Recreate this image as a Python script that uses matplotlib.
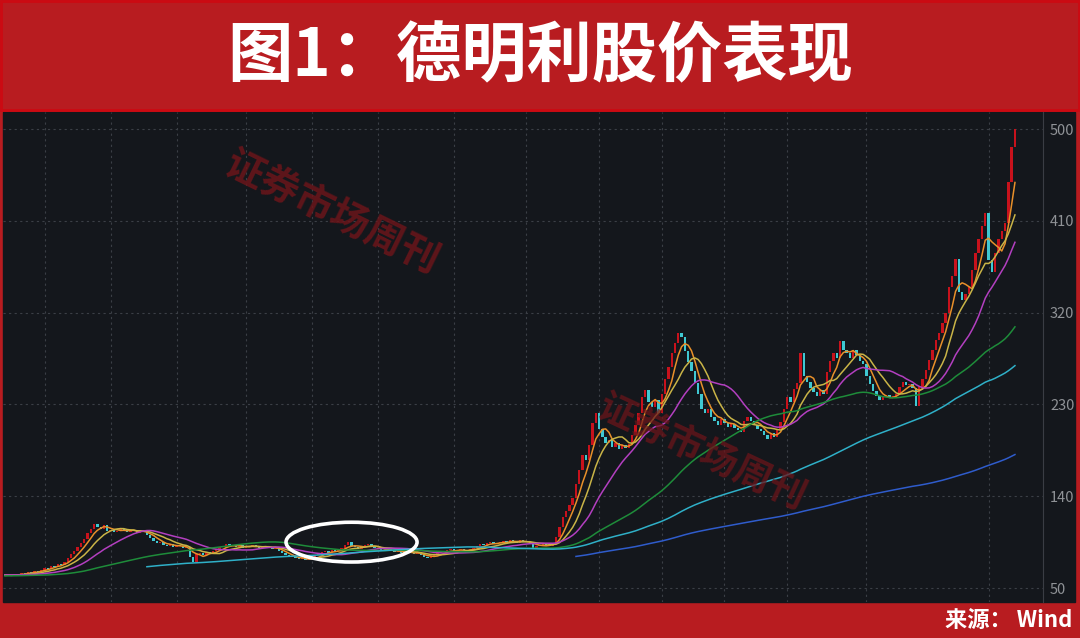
import matplotlib
matplotlib.use('Agg')
import matplotlib.pyplot as plt
from matplotlib.patches import Rectangle, Ellipse
import numpy as np
import pandas as pd

plt.rcParams['font.family'] = ['Noto Sans CJK SC', 'DejaVu Sans']

# cours de clôture avant la fenêtre visible (servent seulement aux moyennes longues)
history = [58, 59, 57, 58, 60, 59, 61, 60, 59, 58,
           60, 61, 62, 60, 59, 61, 63, 62, 61, 60,
           59, 60, 62, 61, 63, 62, 60, 61, 62, 63,
           61, 60, 59, 60, 61, 62, 60, 59, 61, 62,
           63, 61, 60, 62, 61, 63, 62, 64, 63, 62,
           61, 62, 63, 64, 62, 63, 61, 62, 63, 62,
           64, 63, 62, 63, 64, 62, 63, 64, 63, 62,
           63, 64, 62, 63, 62, 63]

# cours de clôture visibles
closes = [62, 63, 62, 64, 63, 65, 64, 66, 65, 67, 66,
          68, 70, 69, 72, 71, 74, 73,
          76, 79, 83, 86, 90, 94,
          98, 104, 108, 113, 110,
          108, 112, 106,
          107, 105, 106, 108, 107, 105, 106, 107, 104, 106, 105,
          102, 99, 96, 94, 95,
          92, 91, 93, 90, 92, 91, 89, 90,
          80, 76,
          83, 84, 82, 85, 84, 86,
          88, 90, 91, 93, 92, 91,
          90, 92, 89, 91, 90, 92, 91, 89, 90, 91, 90, 88, 89,
          86, 84, 82, 80, 81, 79, 78, 80, 77, 78, 79,
          82, 84, 85, 86, 84, 87, 86, 88, 89, 92, 95, 91, 90, 88,
          90, 92, 93, 91, 89, 88, 87, 86, 88, 87, 85, 86, 84, 85, 86, 84, 83, 85,
          82, 80, 79, 81, 83, 84, 85,
          86, 87, 88, 86, 87, 88, 87, 86, 88, 89,
          91, 93, 92, 94, 95, 93, 94, 95,
          96, 95, 97, 96, 94, 97, 96, 95,
          93, 89, 91, 92,
          93, 92, 91, 94,
          100, 110, 120, 126, 131, 138, 152, 166, 180,
          176, 190, 212, 222, 206, 198, 192, 195, 188, 192, 186, 190, 187, 191, 200, 210,
          222, 237, 244, 232, 227, 234, 222, 240, 255, 267, 280, 290, 300, 296, 282, 272,
          263, 251, 240, 226, 222, 226, 218,
          214, 210, 216, 212, 208, 211, 207,
          205, 203, 214,
          218, 214, 210, 206, 204,
          200, 196, 202, 198,
          206, 213, 226, 237, 232,
          245, 251, 280, 258,
          252, 246, 242, 238, 244, 240,
          262, 273, 280, 276, 292, 283,
          280, 276, 283, 278, 273, 270,
          258, 250, 243,
          238, 234, 237, 239, 236, 238, 240,
          247, 252, 249, 250, 246, 228, 247,
          255, 264, 274, 283, 293, 300, 310, 320,
          345, 356, 373, 340, 332,
          338, 345, 362, 378,
          392, 405, 418, 372, 360, 378, 392, 400, 408, 448, 482, 500]

ma_periods = [5, 10, 20, 60, 120, 250]
ma_colors = ['#e8902a', '#c9b447', '#b33fc0', '#1e8c3a', '#2fb0c8', '#2f5ccc']
y_ticks = [50, 140, 230, 320, 410, 500]
month_lines = [12, 32, 52, 73, 93, 113, 136, 158, 180, 199, 218, 237, 261, 298]

W, H = 1080, 638
fig = plt.figure(figsize=(W / 100, H / 100), dpi=100)
fig.patch.set_facecolor('#b81c20')

# panneau sombre du graphique
fig.add_artist(Rectangle((3 / W, 1 - 602 / H), 1072 / W, 490 / H,
                         transform=fig.transFigure, color='#14171c', zorder=0))
# bordure du bandeau de titre
fig.add_artist(Rectangle((1 / W, 1 - 110 / H), 1078 / W, 109 / H, transform=fig.transFigure,
                         fill=False, ec='#cc0a12', lw=2, zorder=1))

ax = fig.add_axes([3 / W, 1 - 602 / H, 1040 / W, 490 / H])
ax.set_facecolor('#14171c')

c = np.array(closes, dtype=float)
o = np.r_[history[-1], c[:-1]]
x = np.arange(len(c))
up = c >= o
dn = ~up
ax.bar(x[up], c[up] - o[up], bottom=o[up], width=0.72, color='#c8121c', zorder=2)
ax.bar(x[dn], c[dn] - o[dn], bottom=o[dn], width=0.72, color='#3fc8d2', zorder=2)

# moyennes mobiles
s = pd.Series(history + closes, dtype=float)
for p, col in zip(ma_periods, ma_colors):
    ma = s.rolling(p).mean().to_numpy()[len(history):]
    ax.plot(x, ma, color=col, lw=1.1, zorder=3)

# ellipse blanche de mise en évidence
ax.add_patch(Ellipse((105, 95), 39.7, 39, fill=False, ec='white', lw=2.6, zorder=5))

ax.set_xlim(-0.6, 314.5)
ax.set_ylim(36.3, 516.7)
ax.set_yticks(y_ticks)
ax.yaxis.tick_right()
ax.tick_params(axis='y', length=0, pad=5, labelcolor='#8f9296', labelsize=10.5)
ax.set_xticks(month_lines)
ax.tick_params(axis='x', length=0, labelbottom=False)
ax.grid(color='#3b3f46', linestyle=(0, (2, 3)), lw=0.8, zorder=1)
for side in ['top', 'left', 'bottom']:
    ax.spines[side].set_visible(False)
ax.spines['right'].set_color('#3a3d44')

# filigranes
fig.text(332 / W, 1 - 213 / H, '证券市场周刊', rotation=-26, fontsize=28, color='#6b151a',
         alpha=0.85, weight='bold', ha='center', va='center', rotation_mode='anchor')
fig.text(702 / W, 1 - 452 / H, '证券市场周刊', rotation=-25, fontsize=27, color='#6b151a',
         alpha=0.75, weight='bold', ha='center', va='center', rotation_mode='anchor')

# titre et source
fig.text(0.5, 1 - 57 / H, '图1：德明利股价表现', color='white', fontsize=47,
         weight='black', ha='center', va='center')
fig.text(1072 / W, 1 - 620 / H, '来源： Wind', color='white', fontsize=16,
         weight='bold', ha='right', va='center')

fig.savefig('out.png', dpi=100, facecolor=fig.get_facecolor())
